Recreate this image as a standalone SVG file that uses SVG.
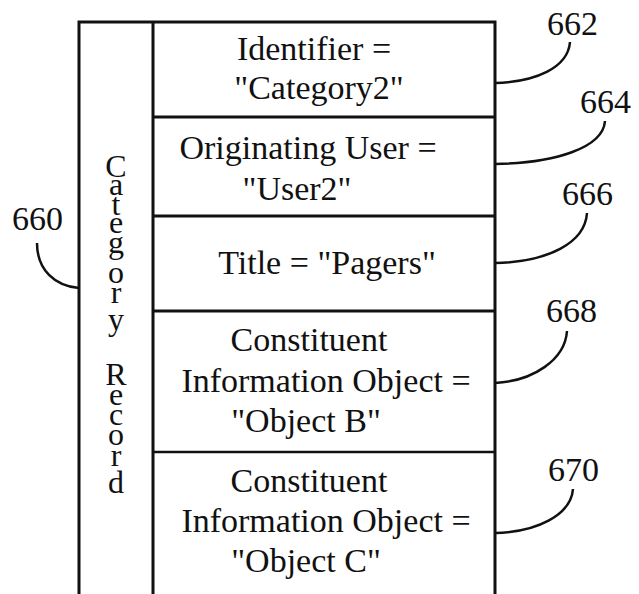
<svg xmlns="http://www.w3.org/2000/svg" width="639" height="594" viewBox="0 0 639 594">
<style>
.ln{stroke:#111;stroke-width:3;fill:none}
.cv{stroke:#111;stroke-width:2.5;fill:none}
text{font-family:"Liberation Serif","Times New Roman",serif;font-size:34px;fill:#111}
.m{text-anchor:middle}
.v{text-anchor:middle;font-size:32px}
</style>
<rect width="639" height="594" fill="#fff"/>
<g id="record">
<path class="ln" d="M79,594 V22 H495 V594"/>
<line class="ln" x1="153" y1="22" x2="153" y2="594"/>
<text class="v" x="116" y="177">C</text>
<text class="v" x="116" y="195">a</text>
<text class="v" x="116" y="215">t</text>
<text class="v" x="116" y="233">e</text>
<text class="v" x="116" y="253">g</text>
<text class="v" x="116" y="283">o</text>
<text class="v" x="116" y="303">r</text>
<text class="v" x="116" y="330">y</text>
<text class="v" x="116" y="385">R</text>
<text class="v" x="116" y="405">e</text>
<text class="v" x="116" y="425">c</text>
<text class="v" x="116" y="445">o</text>
<text class="v" x="116" y="466">r</text>
<text class="v" x="116" y="493">d</text>
</g>
<g id="f662">
<text class="m" x="314" y="60">Identifier =</text>
<text class="m" x="319" y="99">"Category2"</text>
</g>
<g id="f664">
<line class="ln" x1="153" y1="117" x2="495" y2="117"/>
<text class="m" x="308" y="159">Originating User =</text>
<text class="m" x="297" y="200">"User2"</text>
</g>
<g id="f666">
<line class="ln" x1="153" y1="216" x2="495" y2="216"/>
<text class="m" x="327" y="274">Title = "Pagers"</text>
</g>
<g id="f668">
<line class="ln" x1="153" y1="311" x2="495" y2="311"/>
<text class="m" x="309" y="351">Constituent</text>
<text class="m" x="326" y="392">Information Object =</text>
<text class="m" x="306" y="432">"Object B"</text>
</g>
<g id="f670">
<line class="ln" x1="153" y1="452" x2="495" y2="452" style="stroke-width:2.5"/>
<text class="m" x="309" y="492">Constituent</text>
<text class="m" x="326" y="532">Information Object =</text>
<text class="m" x="306" y="572">"Object C"</text>
</g>
<g id="labels">
<text x="12" y="230">660</text>
<text x="547" y="35">662</text>
<text x="580" y="113">664</text>
<text x="562" y="205">666</text>
<text x="546" y="322">668</text>
<text x="548" y="481">670</text>
</g>
<g id="connectors">
<path class="cv" d="M37,243 C37,270 55,286 79,288"/>
<path class="cv" d="M570,42 C568,68 535,82 495,83"/>
<path class="cv" d="M605,121 C603,148 555,163 495,164"/>
<path class="cv" d="M587,213 C585,243 548,262 495,263"/>
<path class="cv" d="M567,331 C565,360 533,381 495,383"/>
<path class="cv" d="M573,489 C571,515 537,532 495,533"/>
</g>
</svg>
